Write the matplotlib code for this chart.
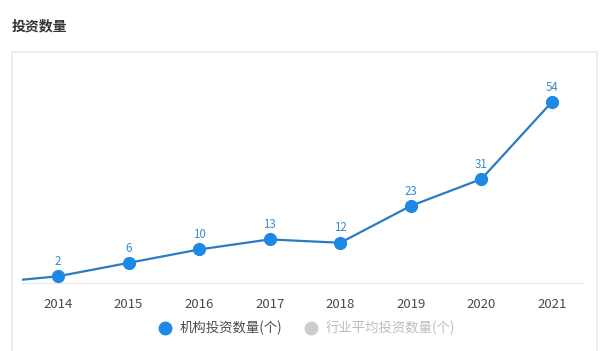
import matplotlib
matplotlib.use('Agg')
import matplotlib.pyplot as plt
from matplotlib.lines import Line2D
from matplotlib.patches import Rectangle

plt.rcParams['font.family'] = ['Noto Sans CJK SC', 'DejaVu Sans']

# chart data
years = ['2013', '2014', '2015', '2016', '2017', '2018', '2019', '2020', '2021']
counts = [0, 2, 6, 10, 13, 12, 23, 31, 54]
title = '投资数量'
series_name = '机构投资数量(个)'
avg_name = '行业平均投资数量(个)'

W, H = 602, 351
fig = plt.figure(figsize=(W / 100, H / 100), dpi=100)

# panel border
fig.patches.append(Rectangle((12 / W, -0.05), 585 / W, (H - 52) / H + 0.05,
                             transform=fig.transFigure, fill=False,
                             edgecolor='#e3ebef', linewidth=1.2))
fig.text(12 / W, 1 - 26 / H, title, fontsize=10, fontweight='bold',
         color='#333333', va='center', ha='left')

ax = fig.add_axes([22 / W, 68 / H, 561 / W, 223 / H])
x = list(range(len(years)))
ax.plot(x, counts, color='#2a7bc2', linewidth=1.6, zorder=2)
ax.plot(x[1:], counts[1:], 'o', color='#1e88e5', markersize=8.5, zorder=3)
for xi, v in zip(x[1:], counts[1:]):
    ax.annotate(str(v), (xi, v), xytext=(0, 6), textcoords='offset points',
                ha='center', va='bottom', fontsize=8.3, color='#3a8bcc')

ax.set_xlim(0.49, 8.44)
ax.set_ylim(0, 66.5)
ax.set_xticks(x[1:])
ax.set_xticklabels(years[1:])
ax.set_yticks([])
for s in ['top', 'right', 'left']:
    ax.spines[s].set_visible(False)
ax.spines['bottom'].set_color('#e8ecee')
ax.spines['bottom'].set_linewidth(1)
ax.tick_params(axis='x', length=0, pad=11, labelsize=9.5, labelcolor='#4a4a4a')

handles = [Line2D([], [], marker='o', linestyle='', color='#1e88e5', markersize=9),
           Line2D([], [], marker='o', linestyle='', color='#cccccc', markersize=9)]
leg = fig.legend(handles, [series_name, avg_name], loc='center',
                 bbox_to_anchor=(306 / W, 1 - 328 / H), ncol=2, frameon=False,
                 fontsize=9.6, handletextpad=0.5, columnspacing=1.6,
                 handlelength=1.2)
leg.get_texts()[0].set_color('#4a4a4a')
leg.get_texts()[1].set_color('#bdbdbd')

fig.savefig('out.png', dpi=100, facecolor='white')
